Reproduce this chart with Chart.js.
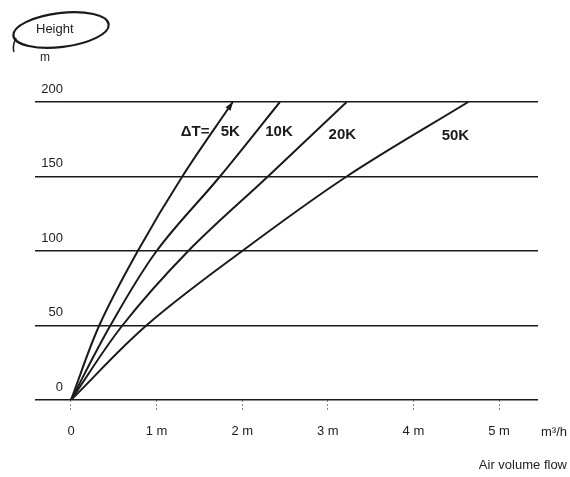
<!DOCTYPE html>
<html>
<head>
<meta charset="utf-8">
<script src="https://cdn.jsdelivr.net/npm/chart.js@4"></script>
<style>
  html, body { margin: 0; padding: 0; background: #fff; }
  #wrap { width: 570px; height: 477px; position: relative; }
</style>
</head>
<body>
<div id="wrap"><canvas id="flowChart"></canvas></div>
<script>
// Height in m, air volume flow in million m3/h
const heights = [0, 50, 100, 150, 200];
const flow5K = [0, 0.33, 0.78, 1.30, 1.89];
const flow10K = [0, 0.46, 1.00, 1.74, 2.44];
const flow20K = [0, 0.60, 1.37, 2.30, 3.22];
const flow50K = [0, 0.88, 2.00, 3.22, 4.64];
const flowTicks = [0, 1, 2, 3, 4, 5];
const heightTicks = [0, 50, 100, 150, 200];
const curveNames = ['ΔT=', '5K', '10K', '20K', '50K'];

// where the handwritten curve names sit (data coordinates)
const namePos = [[1.45, 180], [1.86, 180], [2.43, 180], [3.17, 178], [4.49, 177]];

const INK = '#1a1a1a';

function toPoints(xs) {
    return xs.map((x, i) => ({ x: x, y: heights[i] }));
}

function curve(xs) {
    return {
        data: toPoints(xs),
        showLine: true,
        borderColor: INK,
        borderWidth: 2,
        pointRadius: 0,
        tension: 0.35,
        fill: false
    };
}

// extra text, ellipse and the arrow on the 5K curve
const decorations = {
    id: 'decorations',
    afterDatasetsDraw(chart) {
        const ctx = chart.ctx;
        const xs = chart.scales.x;
        const ys = chart.scales.y;
        ctx.save();

        // arrow head at the top of the 5K curve
        const pts = chart.getDatasetMeta(0).data;
        const tip = pts[pts.length - 1];
        const prev = pts[pts.length - 2];
        const ang = Math.atan2(tip.y - prev.y, tip.x - prev.x);
        ctx.fillStyle = INK;
        ctx.beginPath();
        ctx.moveTo(tip.x, tip.y);
        ctx.lineTo(tip.x - 9 * Math.cos(ang - 0.35), tip.y - 9 * Math.sin(ang - 0.35));
        ctx.lineTo(tip.x - 9 * Math.cos(ang + 0.35), tip.y - 9 * Math.sin(ang + 0.35));
        ctx.closePath();
        ctx.fill();

        // curve names
        ctx.font = 'bold 15px "Liberation Sans Narrow", "Liberation Sans", sans-serif';
        ctx.textAlign = 'center';
        ctx.textBaseline = 'middle';
        curveNames.forEach((name, i) => {
            ctx.fillText(name, xs.getPixelForValue(namePos[i][0]), ys.getPixelForValue(namePos[i][1]));
        });

        // axis captions
        ctx.fillStyle = '#222';
        ctx.font = '13px "Liberation Sans", sans-serif';
        ctx.textAlign = 'right';
        ctx.fillText('m³/h', 567, 432);
        ctx.fillText('Air volume flow', 567, 465);

        ctx.textAlign = 'left';
        ctx.font = '13px "Liberation Sans", sans-serif';
        ctx.fillText('Height', 36, 29);
        ctx.font = '12px "Liberation Sans", sans-serif';
        ctx.fillText('m', 40, 58);

        // hand drawn ring round "Height"
        ctx.strokeStyle = INK;
        ctx.lineWidth = 2.2;
        ctx.beginPath();
        ctx.ellipse(61, 30, 48, 17, -0.12, 0, Math.PI * 2);
        ctx.stroke();
        ctx.lineWidth = 1.5;
        ctx.beginPath();
        ctx.moveTo(16, 38);
        ctx.quadraticCurveTo(12, 46, 14, 52);
        ctx.stroke();
        ctx.restore();
    }
};

new Chart(document.getElementById('flowChart'), {
    type: 'scatter',
    data: {
        datasets: [curve(flow5K), curve(flow10K), curve(flow20K), curve(flow50K)]
    },
    options: {
        responsive: true,
        maintainAspectRatio: false,
        animation: false,
        layout: {
            padding: { top: 102, right: 32, bottom: 0, left: 0 }
        },
        plugins: {
            legend: { display: false },
            tooltip: { enabled: false }
        },
        scales: {
            x: {
                type: 'linear',
                min: -0.07,
                max: 5.455,
                afterBuildTicks: (scale) => {
                    scale.ticks = flowTicks.map(v => ({ value: v }));
                },
                afterFit: (scale) => { scale.height = 77; },
                border: { display: false },
                grid: {
                    drawOnChartArea: false,
                    drawTicks: true,
                    tickLength: 12,
                    tickColor: '#8a8a8a',
                    tickWidth: 1,
                    tickBorderDash: [2, 2]
                },
                ticks: {
                    padding: 12,
                    color: '#222',
                    font: { family: '"Liberation Sans", sans-serif', size: 13 },
                    callback: (v) => v === 0 ? '0' : v + ' m',
                    maxRotation: 0
                }
            },
            y: {
                type: 'linear',
                min: 0,
                max: 200,
                afterBuildTicks: (scale) => {
                    scale.ticks = heightTicks.map(v => ({ value: v }));
                },
                afterFit: (scale) => { scale.width = 65; },
                border: { display: false },
                grid: {
                    color: INK,
                    lineWidth: 1.5,
                    drawTicks: true,
                    tickLength: 30
                },
                ticks: {
                    padding: -28,
                    labelOffset: -13,
                    color: '#222',
                    font: { family: '"Liberation Sans", sans-serif', size: 13 }
                }
            }
        }
    },
    plugins: [decorations]
});
</script>
</body>
</html>
